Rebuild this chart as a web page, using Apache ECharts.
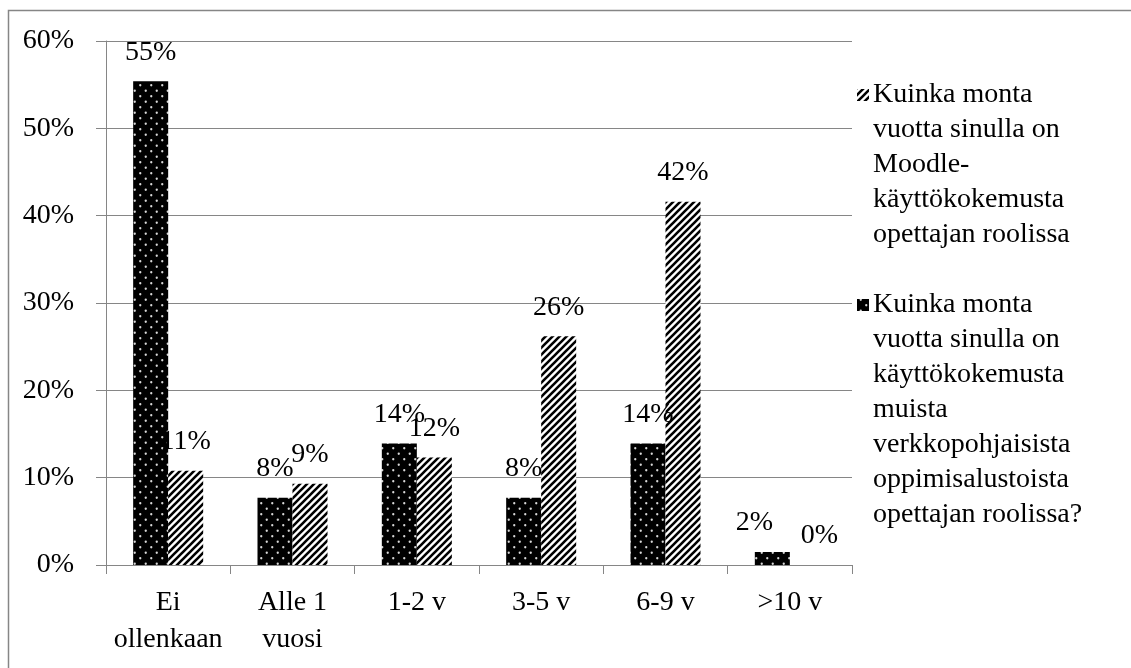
<!DOCTYPE html>
<html>
<head>
<meta charset="utf-8">
<script src="https://cdn.jsdelivr.net/npm/echarts@6/dist/echarts.min.js"></script>
<style>
html,body{margin:0;padding:0;background:#fff;}
#chart{width:1131px;height:668px;}
</style>
</head>
<body>
<div id="chart"></div>
<script>
// ---- data ----
const categories = ['Ei\nollenkaan', 'Alle 1\nvuosi', '1-2 v', '3-5 v', '6-9 v', '>10 v'];
const otherPlatforms = [55.4, 7.7, 13.9, 7.7, 13.9, 1.5];
const moodle = [10.8, 9.3, 12.3, 26.2, 41.6, 0];
const yTicks = [0, 10, 20, 30, 40, 50, 60];
const nameMoodle = 'Kuinka monta\nvuotta sinulla on\nMoodle-\nkäyttökokemusta\nopettajan roolissa';
const nameOther = 'Kuinka monta\nvuotta sinulla on\nkäyttökokemusta\nmuista\nverkkopohjaisista\noppimisalustoista\nopettajan roolissa?';

// ---- patterns ----
function dotPattern() {
  const c = document.createElement('canvas');
  c.width = 11; c.height = 11;
  const g = c.getContext('2d');
  g.fillStyle = '#000'; g.fillRect(0, 0, 11, 11);
  g.fillStyle = '#d8d8d8';
  [[2.75, 2.75], [8.25, 8.25]].forEach(p => { g.beginPath(); g.arc(p[0], p[1], 1.15, 0, Math.PI * 2); g.fill(); });
  return c;
}
function hatchPattern() {
  const s = 7;
  const c = document.createElement('canvas');
  c.width = s; c.height = s;
  const g = c.getContext('2d');
  g.fillStyle = '#fff'; g.fillRect(0, 0, s, s);
  g.strokeStyle = '#000'; g.lineWidth = 2.6;
  g.beginPath();
  g.moveTo(-1, s + 1); g.lineTo(s + 1, -1);
  g.moveTo(-1, 1); g.lineTo(1, -1);
  g.moveTo(s - 1, s + 1); g.lineTo(s + 1, s - 1);
  g.stroke();
  return c;
}
const dotFill = { image: dotPattern(), repeat: 'repeat' };
const hatchFill = { image: hatchPattern(), repeat: 'repeat' };

const FONT = 'Liberation Serif';
const AX = '#868686';

const chart = echarts.init(document.getElementById('chart'), null, { renderer: 'canvas' });

const labelCfg = {
  show: true, position: 'top', distance: 15,
  formatter: p => Math.round(p.value) + '%',
  fontFamily: FONT, fontSize: 28, color: '#000'
};
// per-category horizontal nudges of the value labels (as in the reference)
const otherLabelShift = { 5: -18 };
const moodleLabelShift = { 5: 12 };
function withShift(values, shifts) {
  return values.map((v, i) => shifts[i] !== undefined ? { value: v, label: { offset: [shifts[i], 0] } } : v);
}

const LX = 857, TX = 873, LH = 35;
const item1Top = 95 - LH / 2;
const item2Top = 305 - LH / 2;

chart.setOption({
  animation: false,
  backgroundColor: '#fff',
  grid: { left: 106, right: 279, top: 41, bottom: 103 },
  xAxis: {
    type: 'category',
    data: categories,
    axisLine: { lineStyle: { color: AX, width: 1 } },
    axisTick: { show: true, length: 9, lineStyle: { color: AX } },
    axisLabel: { interval: 0, fontFamily: FONT, fontSize: 28, color: '#000', margin: 19, lineHeight: 37 }
  },
  yAxis: {
    type: 'value',
    min: yTicks[0], max: yTicks[yTicks.length - 1], interval: 10,
    axisLine: { show: true, lineStyle: { color: AX, width: 1 } },
    axisTick: { show: true, length: 10, lineStyle: { color: AX } },
    splitLine: { lineStyle: { color: AX, width: 1 } },
    axisLabel: { formatter: '{value}%', fontFamily: FONT, fontSize: 28, color: '#000', margin: 32 }
  },
  series: [
    {
      name: nameOther, type: 'bar', data: withShift(otherPlatforms, otherLabelShift),
      barWidth: 35, barGap: '0%',
      itemStyle: { color: dotFill },
      label: labelCfg
    },
    {
      name: nameMoodle, type: 'bar', data: withShift(moodle, moodleLabelShift),
      barWidth: 35, barGap: '0%',
      itemStyle: { color: hatchFill },
      label: labelCfg
    }
  ],
  graphic: [
    { type: 'polyline', shape: { points: [[8.5, 668], [8.5, 10.5], [1131, 10.5]] }, style: { stroke: AX, lineWidth: 1.5, fill: null }, silent: true },
    { type: 'rect', shape: { x: LX, y: item1Top + LH / 2 - 6, width: 12, height: 12 }, style: { fill: hatchFill } },
    { type: 'text', x: TX, y: item1Top, style: { text: nameMoodle, font: '28px "Liberation Serif"', fill: '#000', lineHeight: LH, verticalAlign: 'top' } },
    { type: 'rect', shape: { x: LX, y: item2Top + LH / 2 - 6, width: 12, height: 12 }, style: { fill: dotFill } },
    { type: 'text', x: TX, y: item2Top, style: { text: nameOther, font: '28px "Liberation Serif"', fill: '#000', lineHeight: LH, verticalAlign: 'top' } }
  ]
});
</script>
</body>
</html>
